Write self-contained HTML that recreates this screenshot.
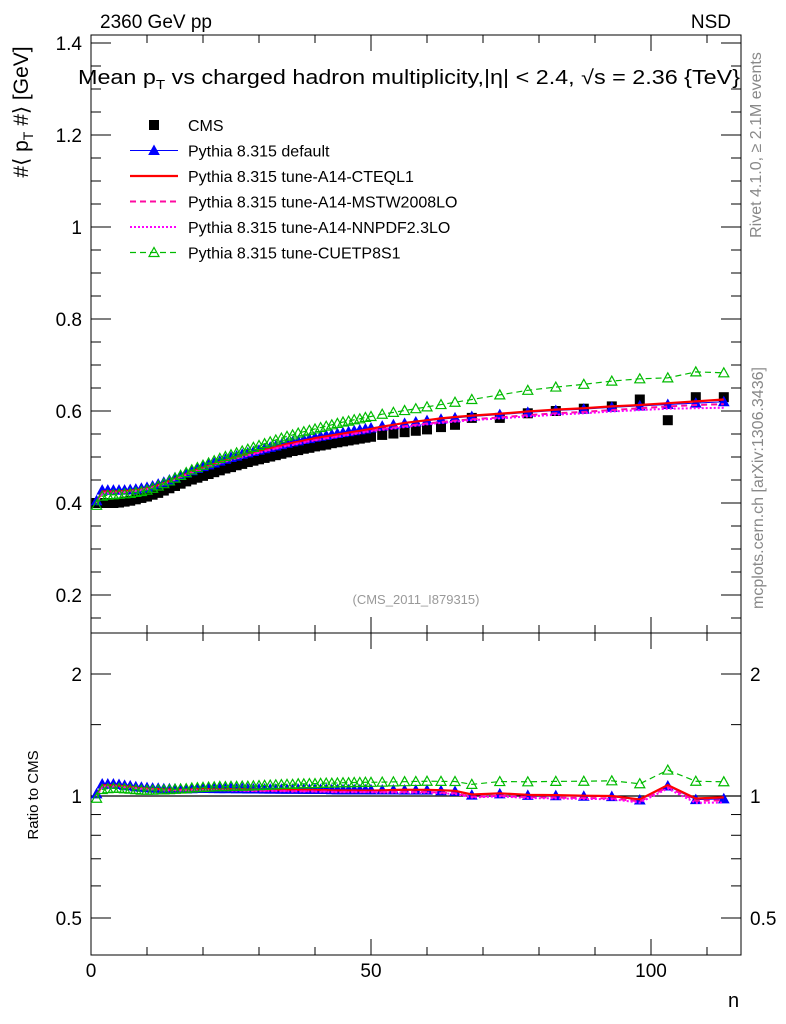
<!DOCTYPE html>
<html><head><meta charset="utf-8"><style>
body{margin:0;background:#fff;}
svg{display:block;font-family:"Liberation Sans",sans-serif;}
</style></head><body>
<svg id="c" width="786" height="1024">
<text x="100" y="28" font-size="19">2360 GeV pp</text>
<text x="731" y="28" font-size="19" text-anchor="end">NSD</text>
<text x="78" y="84" font-size="20" textLength="662" lengthAdjust="spacingAndGlyphs">Mean p<tspan font-size="13" dy="5">T</tspan><tspan dy="-5"> vs charged hadron multiplicity,</tspan>|η| &lt; 2.4, √s = 2.36 {TeV}</text>
<text transform="translate(28,112) rotate(-90)" font-size="21" text-anchor="middle">#⟨ p<tspan font-size="14" dy="5">T</tspan><tspan dy="-5"> #⟩ [GeV]</tspan></text>
<text transform="translate(38,795) rotate(-90)" font-size="15" text-anchor="middle">Ratio to CMS</text>
<text x="728" y="1007" font-size="20">n</text>
<text transform="translate(761,145) rotate(-90)" font-size="16" fill="#888" text-anchor="middle">Rivet 4.1.0, ≥ 2.1M events</text>
<text transform="translate(763,488) rotate(-90)" font-size="16" fill="#888" text-anchor="middle">mcplots.cern.ch [arXiv:1306.3436]</text>
<text x="416" y="604" font-size="13" fill="#999" text-anchor="middle">(CMS_2011_I879315)</text>
<g id="g"></g>
</svg>
<script>
const nVals=[1,2,3,4,5,6,7,8,9,10,11,12,13,14,15,16,17,18,19,20,21,22,23,24,25,26,27,28,29,30,31,32,33,34,35,36,37,38,39,40,41,42,43,44,45,46,47,48,49,50,52,54,56,58,60,62.5,65,68,73,78,83,88,93,98,103,108,113];
const cms=[.400,.400,.400,.400,.401,.403,.405,.408,.411,.414,.418,.422,.427,.432,.437,.442,.447,.451,.455,.459,.463,.467,.471,.475,.478,.482,.485,.489,.492,.495,.498,.501,.504,.507,.510,.513,.515,.518,.520,.523,.525,.527,.530,.532,.534,.536,.538,.540,.542,.544,.548,.551,.554,.557,.560,.565,.570,.585,.585,.595,.600,.605,.610,.625,.580,.630,.630];
const pyDefault=[.405,.428,.428,.428,.428,.428,.429,.430,.432,.434,.437,.441,.445,.450,.455,.460,.465,.470,.475,.479,.483,.487,.491,.495,.499,.502,.506,.509,.512,.515,.518,.521,.524,.527,.530,.533,.535,.538,.540,.543,.545,.547,.549,.551,.553,.555,.557,.559,.561,.563,.567,.570,.573,.576,.579,.582,.585,.588,.592,.597,.601,.604,.608,.611,.614,.617,.620];
const pyCTEQ=[.402,.425,.425,.425,.425,.426,.427,.428,.430,.432,.435,.439,.443,.448,.453,.458,.463,.468,.473,.477,.481,.485,.489,.493,.497,.500,.504,.507,.510,.513,.516,.519,.522,.525,.528,.531,.533,.536,.538,.541,.543,.545,.547,.549,.551,.553,.555,.557,.559,.561,.566,.570,.574,.577,.580,.584,.587,.590,.594,.599,.603,.606,.610,.613,.617,.621,.625];
const pyMSTW=[.400,.422,.423,.423,.423,.424,.425,.427,.429,.431,.434,.438,.442,.447,.452,.457,.462,.467,.471,.475,.479,.483,.487,.491,.494,.498,.501,.504,.507,.510,.513,.516,.519,.522,.525,.527,.530,.532,.535,.537,.539,.541,.543,.545,.547,.549,.551,.553,.555,.557,.561,.564,.567,.570,.573,.576,.579,.582,.586,.591,.595,.598,.602,.606,.610,.613,.615];
const pyNNPDF=[.400,.421,.422,.422,.422,.423,.424,.426,.428,.430,.433,.437,.441,.446,.451,.456,.461,.466,.470,.474,.478,.482,.486,.490,.493,.497,.500,.503,.506,.509,.512,.515,.518,.521,.524,.526,.529,.531,.534,.536,.538,.540,.542,.544,.546,.548,.550,.552,.554,.556,.559,.562,.565,.568,.571,.574,.577,.580,.584,.588,.592,.595,.599,.602,.605,.606,.607];
const pyCUETP=[.395,.415,.417,.418,.419,.420,.421,.423,.425,.428,.432,.437,.442,.448,.454,.460,.466,.472,.477,.482,.487,.492,.497,.501,.505,.509,.513,.517,.521,.525,.529,.533,.537,.541,.545,.548,.552,.555,.558,.561,.564,.567,.570,.573,.576,.578,.581,.583,.586,.588,.593,.597,.601,.605,.609,.614,.619,.625,.635,.645,.652,.658,.665,.670,.672,.685,.683];
const xTicks=[0,50,100];
const yTicks=[0.2,0.4,0.6,0.8,1,1.2,1.4];
const rTicks=[0.5,1,2];

const L=91,R=741,T=35,M=633,B=955;
const X=v=>L+(v)*5.6;
const Y=v=>503-(v-0.4)*460;
const YR=v=>796-122*Math.log2(v);
const NS="http://www.w3.org/2000/svg";
const g=document.getElementById('g');
function mk(tag,at,parent){const e=document.createElementNS(NS,tag);for(const k in at)e.setAttribute(k,at[k]);(parent||g).appendChild(e);return e;}

let f1=mk('rect',{x:L,y:T,width:R-L,height:M-T,fill:'none',stroke:'#000','stroke-width':1});


let f2=mk('rect',{x:L,y:M,width:R-L,height:B-M,fill:'none',stroke:'#000','stroke-width':1});


let one=mk('line',{x1:L,x2:R,y1:YR(1),y2:YR(1),stroke:'#000','stroke-width':1.2});



for(let v=0;v<=115;v+=10){const maj=v%50===0;const l=maj?16:8;
 for(const [y0,d] of [[M,-1],[T,1],[B,-1],[M,1]]){mk('line',{x1:X(v),x2:X(v),y1:y0,y2:y0+d*l,stroke:'#000'});}}
xTicks.forEach(v=>{const t=mk('text',{x:X(v),y:977,'font-size':19,'text-anchor':'middle'});t.textContent=v;
 
 });
for(let k=0;k<=26;k++){const v=0.15+k*0.05;if(Y(v)<T||Y(v)>M)continue;const maj=Math.abs((v*10)%2)<0.01||Math.abs((v*10)%2-2)<0.01;const l=maj?20:10;
 mk('line',{x1:L,x2:L+l,y1:Y(v),y2:Y(v),stroke:'#000'});mk('line',{x1:R,x2:R-l,y1:Y(v),y2:Y(v),stroke:'#000'});}
yTicks.forEach(v=>{const t=mk('text',{x:82,y:Y(v)+7,'font-size':19,'text-anchor':'end'});t.textContent=v;
 
 });
[0.5,0.6,0.7,0.8,0.9,1,1.5,2].forEach(v=>{const l=rTicks.includes(v)?20:10;
 mk('line',{x1:L,x2:L+l,y1:YR(v),y2:YR(v),stroke:'#000'});mk('line',{x1:R,x2:R-l,y1:YR(v),y2:YR(v),stroke:'#000'});});
rTicks.forEach(v=>{[[82,'end'],[750,'start']].forEach(([x,a])=>{const t=mk('text',{x:x,y:YR(v)+7,'font-size':19,'text-anchor':a});t.textContent=v;
 
 });});

const series=[
 {d:pyDefault,c:'#0000ff',w:1,da:'',m:'tri',name:'pythia-default'},
 {d:pyCTEQ,c:'#ff0000',w:2.2,da:'',m:'',name:'pythia-a14-cteql1'},
 {d:pyMSTW,c:'#ff0aa0',w:2,da:'6,4',m:'',name:'pythia-a14-mstw2008lo'},
 {d:pyNNPDF,c:'#ff00ff',w:2,da:'2,2',m:'',name:'pythia-a14-nnpdf23lo'},
 {d:pyCUETP,c:'#00bb00',w:1.2,da:'6,4',m:'otri',name:'pythia-cuetp8s1'}
];
function tri(x,y,c,open,parent){return mk('path',{d:`M${x-5},${y+4}L${x+5},${y+4}L${x},${y-5}Z`,fill:open?'none':c,stroke:c,'stroke-width':open?1.2:1},parent);}

const cg=mk('g',{});


nVals.forEach((n,i)=>{const r=mk('rect',{x:X(n)-5,y:Y(cms[i])-5,width:10,height:10,fill:'#000'},cg);
 
 });

series.forEach(s=>{
 const sg=mk('g',{});
 
 
 const pm=nVals.map((n,i)=>X(n)+','+Y(s.d[i])).join(' ');
 mk('polyline',{points:pm,fill:'none',stroke:s.c,'stroke-width':s.w,'stroke-dasharray':s.da},sg);
 const pr=nVals.map((n,i)=>X(n)+','+YR(s.d[i]/cms[i])).join(' ');
 mk('polyline',{points:pr,fill:'none',stroke:s.c,'stroke-width':s.w,'stroke-dasharray':s.da},sg);
 if(s.m){nVals.forEach((n,i)=>{tri(X(n),Y(s.d[i]),s.c,s.m==='otri',sg);tri(X(n),YR(s.d[i]/cms[i]),s.c,s.m==='otri',sg);});}
});

const labels=['CMS','Pythia 8.315 default','Pythia 8.315 tune-A14-CTEQL1','Pythia 8.315 tune-A14-MSTW2008LO','Pythia 8.315 tune-A14-NNPDF2.3LO','Pythia 8.315 tune-CUETP8S1'];
labels.forEach((lab,i)=>{const y=125+i*25.5;const lg=mk('g',{});
 
 
 if(i===0){mk('rect',{x:149,y:y-5,width:10,height:10,fill:'#000'},lg);}
 else{const s=series[i-1];mk('line',{x1:130,x2:178,y1:y,y2:y,stroke:s.c,'stroke-width':s.w,'stroke-dasharray':s.da},lg);
  if(s.m)tri(154,y,s.c,s.m==='otri',lg);}
 const t=mk('text',{x:188,y:y+6,'font-size':16},lg);t.textContent=lab;});
</script>
</body></html>
